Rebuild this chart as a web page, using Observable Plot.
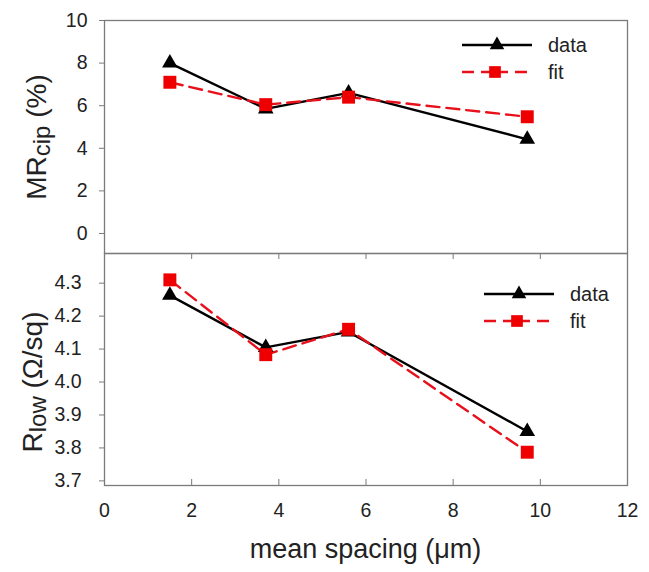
<!DOCTYPE html>
<html><head><meta charset="utf-8">
<script src="https://cdn.jsdelivr.net/npm/d3@7"></script>
<script src="https://cdn.jsdelivr.net/npm/@observablehq/plot@0.6"></script>
<style>
body{margin:0;background:#fff;}
#wrap{position:relative;width:649px;height:572px;font-family:"Liberation Sans",Arial,sans-serif;}
#wrap svg{position:absolute;left:0;overflow:visible;}
#wrap svg g[aria-label*="tick label"]{font-size:19.5px !important;fill:#222;}
</style></head>
<body><div id="wrap"></div>
<script>
const spacing = [1.5, 3.7, 5.6, 9.7];
const mrData = [8.0, 5.85, 6.6, 4.42];
const mrFit = [7.1, 6.05, 6.4, 5.48];
const rData = [4.263, 4.105, 4.152, 3.85];
const rFit = [4.31, 4.083, 4.16, 3.787];
const xTicks = [0, 2, 4, 6, 8, 10, 12];
const mrTicks = [0, 2, 4, 6, 8, 10];
const rTicks = [3.7, 3.8, 3.9, 4.0, 4.1, 4.2, 4.3];
const seriesNames = ["data", "fit"];

const rows = (ys) => spacing.map((x, i) => ({x, y: ys[i]}));
const frameColor = "#7a7a7a";
const textColor = "#222";
const font = "Liberation Sans, Arial, sans-serif";
const wrap = document.getElementById("wrap");

function seriesMarks(dataY, fitY) {
  return [
    Plot.line(rows(dataY), {x: "x", y: "y", stroke: "#000", strokeWidth: 2.4}),
    Plot.line(rows(fitY), {x: "x", y: "y", stroke: "#e8101a", strokeWidth: 2.4, strokeDasharray: "13,7"}),
    Plot.dot(rows(dataY), {x: "x", y: "y", symbol: "triangle", r: 5.8, fill: "#000", stroke: "none"}),
    Plot.dot(rows(fitY), {x: "x", y: "y", symbol: "square", r: 7.3, fill: "#ee0000", stroke: "none"})
  ];
}

function addLegend(svg, x0, y0) {
  const g = d3.select(svg).append("g").attr("font-family", font).attr("text-anchor", "start");
  const gap = 27;
  const len = 70;
  g.append("line").attr("x1", x0).attr("x2", x0 + len).attr("y1", y0).attr("y2", y0).attr("stroke", "#000").attr("stroke-width", 2.4);
  g.append("path").attr("d", d3.symbol(d3.symbolTriangle, Math.PI * 5.4 * 5.4)()).attr("transform", `translate(${x0 + 35},${y0})`).attr("fill", "#000");
  g.append("text").attr("x", x0 + len + 16).attr("y", y0).attr("dy", "0.35em").attr("font-size", 20).attr("fill", textColor).text(seriesNames[0]);
  g.append("line").attr("x1", x0).attr("x2", x0 + 65).attr("y1", y0 + gap).attr("y2", y0 + gap).attr("stroke", "#e8101a").attr("stroke-width", 2.6).attr("stroke-dasharray", "12,7,27,7");
  g.append("path").attr("d", d3.symbol(d3.symbolSquare, Math.PI * 6.6 * 6.6)()).attr("transform", `translate(${x0 + 33},${y0 + gap})`).attr("fill", "#ee0000");
  g.append("text").attr("x", x0 + len + 16).attr("y", y0 + gap).attr("dy", "0.35em").attr("font-size", 20).attr("fill", textColor).text(seriesNames[1]);
}

function addYLabel(svg, x, y, main, sub, rest) {
  const t = d3.select(svg).append("text")
    .attr("transform", `translate(${x},${y}) rotate(-90)`)
    .attr("text-anchor", "middle").attr("font-family", font).attr("font-size", 28).attr("fill", textColor);
  t.append("tspan").text(main);
  t.append("tspan").attr("font-size", 24).attr("dy", 4).text(sub);
  t.append("tspan").attr("dy", -4).text(rest);
}

const topPlot = Plot.plot({
  width: 649, height: 253,
  marginTop: 20, marginBottom: 0, marginLeft: 104, marginRight: 22,
  style: {fontFamily: font, fontSize: "19px", color: textColor, background: "transparent"},
  x: {domain: [0, 12], axis: null},
  y: {domain: [-0.94, 10], axis: null},
  marks: [
    Plot.axisY({ticks: mrTicks, tickSize: 5, tickPadding: 12, label: null, stroke: frameColor}),
    Plot.frame({stroke: frameColor, strokeWidth: 1.3}),
    ...seriesMarks(mrData, mrFit)
  ]
});
topPlot.style.top = "0px";
wrap.appendChild(topPlot);
addLegend(topPlot, 462, 45);
addYLabel(topPlot, 46, 137, "MR", "cip", " (%)");

const bottomPlot = Plot.plot({
  width: 649, height: 319,
  marginTop: 0, marginBottom: 87, marginLeft: 104, marginRight: 22,
  style: {fontFamily: font, fontSize: "19px", color: textColor, background: "transparent"},
  x: {domain: [0, 12], axis: null},
  y: {domain: [3.686, 4.39], axis: null},
  marks: [
    Plot.axisY({ticks: rTicks, tickFormat: d3.format(".1f"), tickSize: 5, tickPadding: 18, label: null, stroke: frameColor}),
    Plot.axisX({ticks: xTicks, tickSize: 0, tickPadding: 18, label: null}),
    Plot.tickX(xTicks, {x: d => d, insetTop: 226, stroke: frameColor}),
    Plot.tickX(xTicks, {x: d => d, insetBottom: 226, stroke: frameColor}),
    Plot.frame({stroke: frameColor, strokeWidth: 1.3}),
    ...seriesMarks(rData, rFit)
  ]
});
bottomPlot.style.top = "253px";
wrap.appendChild(bottomPlot);
addLegend(bottomPlot, 484, 41);
addYLabel(bottomPlot, 42, 129, "R", "low", " (\u03A9/sq)");
d3.select(bottomPlot).append("text")
  .attr("x", 365.5).attr("y", 305).attr("text-anchor", "middle")
  .attr("font-family", font).attr("font-size", 27).attr("fill", textColor)
  .text("mean spacing (\u03BCm)");
</script></body></html>
